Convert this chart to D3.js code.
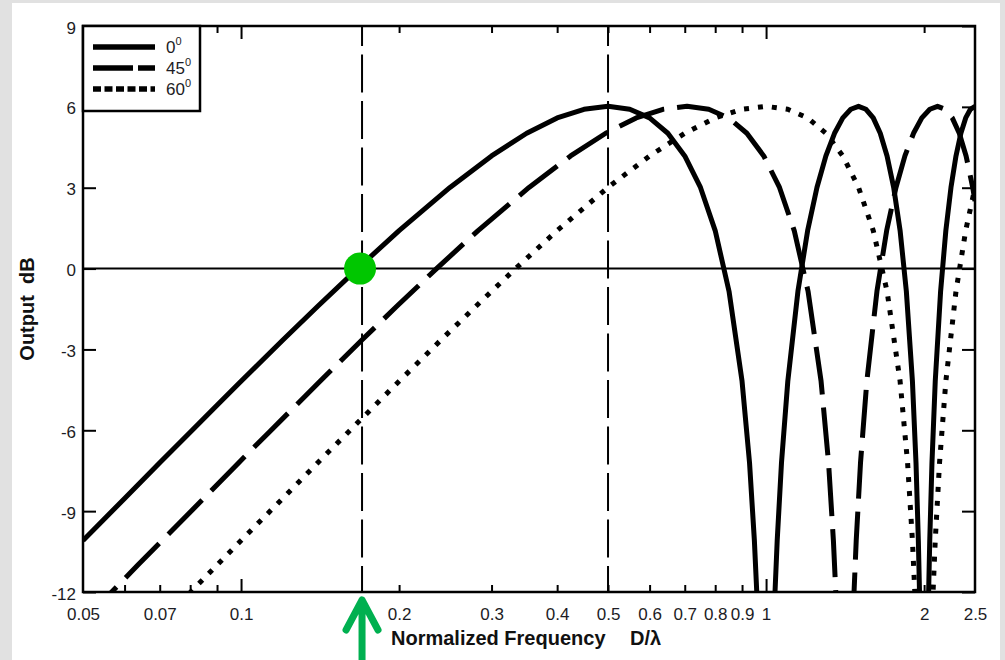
<!DOCTYPE html>
<html><head><meta charset="utf-8">
<script src="https://cdn.jsdelivr.net/npm/d3@7"></script>
<style>
html,body{margin:0;padding:0;background:#e1e1e1;}
svg{display:block;font-family:"Liberation Sans",Arial,sans-serif;}
</style></head><body>
<svg id="c" width="1005" height="660"></svg>
<script>
// ---- data ----
const freq0=[0.05,0.06,0.07,0.08,0.09,0.1,0.12,0.14,0.1667,0.2,0.25,0.3,0.35,0.4,0.45,0.5,0.55,0.6,0.65,0.7,0.75,0.8,0.85,0.9,0.93,0.95,0.96,0.97,1.03,1.04,1.05,1.07,1.1,1.15,1.2,1.25,1.3,1.35,1.4,1.45,1.5,1.55,1.6,1.65,1.7,1.75,1.8,1.85,1.9,1.93,1.95,1.96,1.97,2.03,2.04,2.05,2.07,2.1,2.15,2.2,2.25,2.3,2.35,2.4,2.45,2.5];
const db0=[-10.09,-8.53,-7.20,-6.07,-5.07,-4.18,-2.66,-1.40,0,1.41,3.01,4.18,5.02,5.59,5.91,6.02,5.91,5.59,5.02,4.18,3.01,1.41,-0.84,-4.18,-7.20,-10.09,-12.0,-14.5,-14.5,-12.0,-10.09,-7.20,-4.18,-0.84,1.41,3.01,4.18,5.02,5.59,5.91,6.02,5.91,5.59,5.02,4.18,3.01,1.41,-0.84,-4.18,-7.20,-10.09,-12.0,-14.5,-14.5,-12.0,-10.09,-7.20,-4.18,-0.84,1.41,3.01,4.18,5.02,5.59,5.91,6.02];

const freq45=[0.05,0.0567,0.0636,0.0707,0.0849,0.0990,0.1131,0.1273,0.1414,0.1697,0.1980,0.2357,0.2828,0.3536,0.4243,0.4950,0.5657,0.6364,0.7071,0.7778,0.8485,0.9192,0.9899,1.0607,1.1314,1.2021,1.2728,1.3152,1.3435,1.3576,1.3718,1.4566,1.4708,1.4849,1.5132,1.5556,1.6263,1.6971,1.7678,1.8385,1.9092,1.9799,2.0506,2.1213,2.1920,2.2627,2.3335,2.4042,2.4749,2.5];
const db45=[-13.09,-12.0,-11.0,-10.09,-8.53,-7.20,-6.07,-5.07,-4.18,-2.66,-1.40,0,1.41,3.01,4.18,5.02,5.59,5.91,6.02,5.91,5.59,5.02,4.18,3.01,1.41,-0.84,-4.18,-7.20,-10.09,-12.0,-14.5,-14.5,-12.0,-10.09,-7.20,-4.18,-0.84,1.41,3.01,4.18,5.02,5.59,5.91,6.02,5.91,5.59,5.02,4.18,3.01,2.50];

const freq60=[0.07,0.0802,0.09,0.1,0.12,0.14,0.16,0.18,0.2,0.24,0.28,0.3333,0.4,0.5,0.6,0.7,0.8,0.9,1.0,1.1,1.2,1.3,1.4,1.5,1.6,1.7,1.8,1.86,1.9,1.92,1.94,2.06,2.08,2.1,2.14,2.2,2.3,2.4,2.5];
const db60=[-13.17,-12.0,-11.0,-10.09,-8.53,-7.20,-6.07,-5.07,-4.18,-2.66,-1.40,0,1.41,3.01,4.18,5.02,5.59,5.91,6.02,5.91,5.59,5.02,4.18,3.01,1.41,-0.84,-4.18,-7.20,-10.09,-12.0,-14.5,-14.5,-12.0,-10.09,-7.20,-4.18,-0.84,1.41,3.01];

const seriesNames=["0","45","60"];
const xTickLabels=[0.05,0.07,0.1,0.2,0.3,0.4,0.5,0.6,0.7,0.8,0.9,1,2,2.5];
const xMinorTicks=[0.06,0.07,0.08,0.09,0.2,0.3,0.4,0.5,0.6,0.7,0.8,0.9,2];
const xMajorTicks=[0.1,1];
const yTicks=[-12,-9,-6,-3,0,3,6,9];
const markerFreqs=[0.170,0.5];
const highlightFreq=0.1685, highlightDb=0;

// ---- drawing ----
const svg=d3.select("#c");
const L=83,R=975,T=26,B=592;
const x=d3.scaleLog().domain([0.05,2.5]).range([L,R]);
const y=d3.scaleLinear().domain([-12,9]).range([B,T]);

svg.append("rect").attr("x",0).attr("y",0).attr("width",1005).attr("height",660).attr("fill","#e1e1e1");
svg.append("rect").attr("x",12).attr("y",3).attr("width",988).attr("height",657).attr("fill","#fff");

svg.append("defs").append("clipPath").attr("id","clip")
  .append("rect").attr("x",L).attr("y",T).attr("width",R-L).attr("height",B-T);

const plot=svg.append("g").attr("clip-path","url(#clip)");

// zero line
plot.append("line").attr("x1",L).attr("x2",R).attr("y1",y(0)).attr("y2",y(0))
  .attr("stroke","#000").attr("stroke-width",2);

// vertical dashed marker lines
plot.selectAll("line.mk").data(markerFreqs).enter().append("line").attr("class","mk")
  .attr("x1",d=>x(d)).attr("x2",d=>x(d)).attr("y1",T).attr("y2",B)
  .attr("stroke","#000").attr("stroke-width",2)
  .attr("stroke-dasharray","38,8.5").attr("stroke-dashoffset",18);

const line=d3.line().x(d=>x(d[0])).y(d=>y(d[1])).curve(d3.curveLinear);
const series=[
  {f:freq0,v:db0,dash:null},
  {f:freq45,v:db45,dash:"48,13"},
  {f:freq60,v:db60,dash:"5,9"}
];
series.slice().reverse().forEach(s=>{
  const pts=s.f.map((f,i)=>[f,s.v[i]]);
  plot.append("path").datum(pts).attr("d",line)
    .attr("fill","none").attr("stroke","#000").attr("stroke-width",5)
    .attr("stroke-linejoin","round")
    .attr("stroke-dasharray",s.dash);
});

// axes ticks (inward)
const tickStyle=g=>{g.select(".domain").remove();g.selectAll("line").attr("stroke","#000").attr("stroke-width",2);g.selectAll("text").remove();};
svg.append("g").attr("transform",`translate(0,${B})`).call(d3.axisBottom(x).tickValues(xMinorTicks).tickSize(-7)).call(tickStyle);
svg.append("g").attr("transform",`translate(0,${B})`).call(d3.axisBottom(x).tickValues(xMajorTicks).tickSize(-13)).call(tickStyle);
svg.append("g").attr("transform",`translate(0,${T})`).call(d3.axisTop(x).tickValues(xMinorTicks).tickSize(-7)).call(tickStyle);
svg.append("g").attr("transform",`translate(0,${T})`).call(d3.axisTop(x).tickValues(xMajorTicks).tickSize(-13)).call(tickStyle);
svg.append("g").attr("transform",`translate(${L},0)`).call(d3.axisLeft(y).tickValues(yTicks).tickSize(-13)).call(tickStyle);
svg.append("g").attr("transform",`translate(${R},0)`).call(d3.axisRight(y).tickValues(yTicks).tickSize(-13)).call(tickStyle);

// tick labels
const labStyle=g=>{g.select(".domain").remove();g.selectAll("line").remove();
  g.selectAll("text").attr("fill","#1c1c24").attr("font-size",17).attr("font-family","'Liberation Sans',Arial,sans-serif");};
svg.append("g").attr("transform",`translate(0,${B})`)
  .call(d3.axisBottom(x).tickValues(xTickLabels).tickSize(0).tickPadding(16).tickFormat(d=>String(d))).call(labStyle);
const yl=svg.append("g").attr("transform",`translate(${L},0)`)
  .call(d3.axisLeft(y).tickValues(yTicks).tickSize(0).tickPadding(7).tickFormat(d=>String(d))).call(labStyle);
yl.selectAll("text").attr("dy","0.42em");

// frame
svg.append("rect").attr("x",L).attr("y",T).attr("width",R-L).attr("height",B-T)
  .attr("fill","none").attr("stroke","#000").attr("stroke-width",2.5);

// legend
const lg=svg.append("g");
lg.append("rect").attr("x",L).attr("y",T).attr("width",117).attr("height",85)
  .attr("fill","#fff").attr("stroke","#000").attr("stroke-width",2.5);
const legDash=[null,"40,5","8,3.5"];
seriesNames.forEach((n,i)=>{
  const yy=47+i*21;
  lg.append("line").attr("x1",93).attr("x2",155).attr("y1",yy).attr("y2",yy)
    .attr("stroke","#000").attr("stroke-width",5.5).attr("stroke-dasharray",legDash[i]);
  const t=lg.append("text").attr("x",166).attr("y",yy+6).attr("font-size",17).attr("fill","#1c1c24");
  t.append("tspan").text(n);
  t.append("tspan").attr("dy",-8).attr("font-size",11).text("0");
});

// axis titles
svg.append("text").attr("transform",`translate(34,${(T+B)/2}) rotate(-90)`)
  .attr("text-anchor","middle").attr("font-weight","bold").attr("font-size",20).attr("fill","#111")
  .attr("xml:space","preserve").text("Output  dB");
const xt=svg.append("text").attr("y",645).attr("font-weight","bold").attr("font-size",20).attr("fill","#111");
xt.append("tspan").attr("x",391).text("Normalized Frequency");
xt.append("tspan").attr("x",630).text("D/λ");

// green highlight point
svg.append("circle").attr("cx",x(highlightFreq)).attr("cy",y(highlightDb)).attr("r",16).attr("fill","#00c600");

// green arrow
const ax=x(markerFreqs[0]);
svg.append("path").attr("d",`M${ax-16},630 L${ax},600 L${ax+16},630 M${ax},600 L${ax},662`)
  .attr("fill","none").attr("stroke","#00b050").attr("stroke-width",7)
  .attr("stroke-linecap","round").attr("stroke-linejoin","round");
</script>
</body></html>
